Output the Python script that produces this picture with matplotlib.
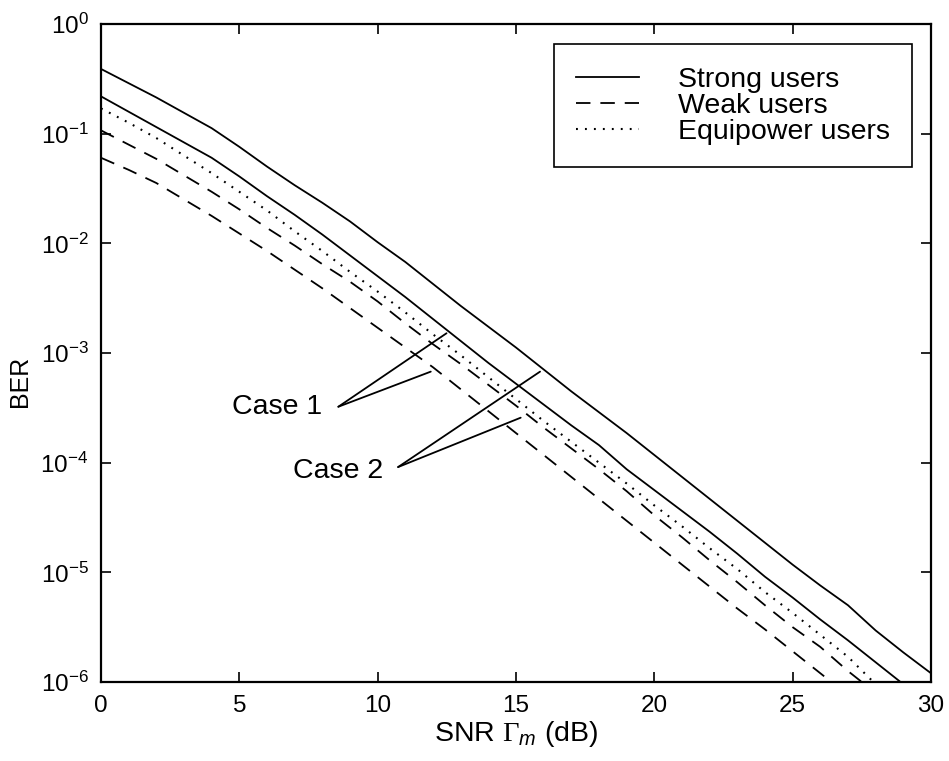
import matplotlib.pyplot as plt
import numpy as np
from matplotlib.ticker import FuncFormatter, NullLocator

plt.rcParams['font.family'] = 'Liberation Sans'
plt.rcParams['mathtext.fontset'] = 'custom'
plt.rcParams['mathtext.rm'] = 'Liberation Serif'
plt.rcParams['mathtext.it'] = 'Liberation Sans:italic'

# log10(BER) against SNR in dB, one point per dB
snr = np.arange(0, 31)
strong_case2 = [-0.41, -0.54, -0.67, -0.81, -0.95, -1.12, -1.30, -1.47, -1.63, -1.80,
                -1.99, -2.17, -2.37, -2.57, -2.76, -2.95, -3.15, -3.35, -3.54, -3.73,
                -3.93, -4.13, -4.33, -4.53, -4.73, -4.93, -5.12, -5.30, -5.53, -5.73,
                -5.92]
strong_case1 = [-0.66, -0.80, -0.94, -1.08, -1.22, -1.39, -1.57, -1.74, -1.92, -2.11,
                -2.30, -2.49, -2.69, -2.89, -3.09, -3.28, -3.47, -3.66, -3.84, -4.06,
                -4.25, -4.44, -4.63, -4.83, -5.04, -5.23, -5.43, -5.62, -5.82, -6.02]
equipower = [-0.77, -0.90, -1.04, -1.20, -1.36, -1.53, -1.70, -1.89, -2.07, -2.26,
             -2.44, -2.63, -2.83, -3.02, -3.22, -3.42, -3.62, -3.81, -4.00, -4.19,
             -4.39, -4.58, -4.78, -4.97, -5.18, -5.37, -5.57, -5.77, -6.02]
weak_case2 = [-0.97, -1.10, -1.23, -1.38, -1.53, -1.69, -1.86, -2.02, -2.19, -2.35,
              -2.53, -2.73, -2.92, -3.10, -3.29, -3.48, -3.68, -3.87, -4.06, -4.26,
              -4.48, -4.68, -4.89, -5.09, -5.30, -5.50, -5.68, -5.90, -6.10]
weak_case1 = [-1.22, -1.33, -1.45, -1.60, -1.75, -1.91, -2.07, -2.24, -2.41, -2.59,
              -2.77, -2.95, -3.13, -3.33, -3.53, -3.73, -3.93, -4.13, -4.33, -4.53,
              -4.73, -4.93, -5.13, -5.33, -5.52, -5.72, -5.92, -6.12]

def ber(vals):
    return 10.0 ** np.array(vals)

lw = 1.3
dashed = (0, (8, 5.5))
dotted = (0, (0.9, 3.4))

fig = plt.figure(figsize=(9.49, 7.61), dpi=100)
ax = fig.add_axes([0.1064, 0.1038, 0.8746, 0.8647])

ax.semilogy(snr[:len(strong_case2)], ber(strong_case2), color='k', lw=lw, label='Strong users')
ax.semilogy(snr[:len(strong_case1)], ber(strong_case1), color='k', lw=lw)
ax.semilogy(snr[:len(weak_case2)], ber(weak_case2), color='k', lw=lw, ls=dashed, label='Weak users')
ax.semilogy(snr[:len(weak_case1)], ber(weak_case1), color='k', lw=lw, ls=dashed)
ax.semilogy(snr[:len(equipower)], ber(equipower), color='k', lw=1.5, ls=dotted, label='Equipower users')

ax.set_xlim(0, 30)
ax.set_ylim(1e-6, 1)
ax.set_xticks([0, 5, 10, 15, 20, 25, 30])
ax.set_yticks([1e-6, 1e-5, 1e-4, 1e-3, 1e-2, 1e-1, 1])
ax.yaxis.set_minor_locator(NullLocator())
ax.yaxis.set_major_formatter(FuncFormatter(lambda v, p: r'$\mathregular{10^{%d}}$' % round(np.log10(v))))
ax.tick_params(direction='in', top=True, right=True, length=7, width=1.2,
               labelsize=17.5, pad=9)
for s in ax.spines.values():
    s.set_linewidth(1.6)

ax.set_xlabel(r'SNR $\Gamma_m$ (dB)', fontsize=20.5, labelpad=2)
ax.set_ylabel('BER', fontsize=18)
ax.yaxis.set_label_coords(-0.083, 0.457)

# labels for the two power cases, with leader lines to their curves
ax.text(7.99, 10 ** -3.49, 'Case 1', fontsize=20.5, ha='right', va='center')
for end in [(12.49, -2.82), (11.92, -3.17)]:
    ax.annotate('', xy=(end[0], 10 ** end[1]), xytext=(8.58, 10 ** -3.49),
                arrowprops=dict(arrowstyle='-', lw=lw, color='k', shrinkA=0, shrinkB=0))
ax.text(10.19, 10 ** -4.08, 'Case 2', fontsize=20.5, ha='right', va='center')
for end in [(15.87, -3.17), (15.17, -3.59)]:
    ax.annotate('', xy=(end[0], 10 ** end[1]), xytext=(10.74, 10 ** -4.04),
                arrowprops=dict(arrowstyle='-', lw=lw, color='k', shrinkA=0, shrinkB=0))

leg = ax.legend(loc='upper right', bbox_to_anchor=(0.977, 0.969), borderaxespad=0,
                fontsize=20.5, fancybox=False, framealpha=1, edgecolor='k',
                handlelength=2.2, handletextpad=1.37, labelspacing=0.0, borderpad=0.78)
leg.get_frame().set_linewidth(1.2)

fig.savefig('out.png', dpi=100)
